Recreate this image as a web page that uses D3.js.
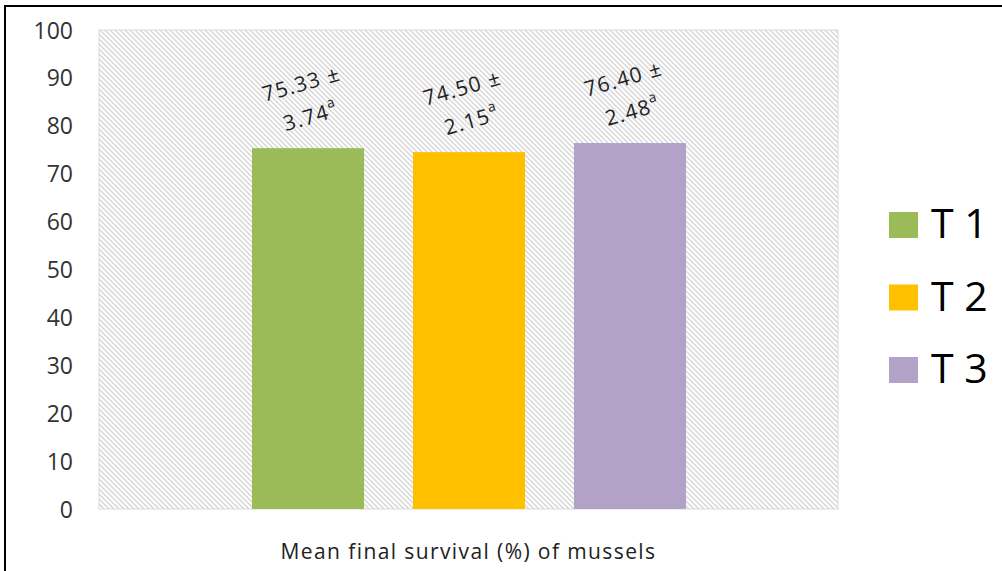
<!DOCTYPE html>
<html>
<head>
<meta charset="utf-8">
<script src="https://cdn.jsdelivr.net/npm/d3@7"></script>
<style>
  html, body { margin: 0; padding: 0; background: #fff; }
  svg { display: block; font-family: "Open Sans", sans-serif; }
</style>
</head>
<body>
<svg id="chart" width="1002" height="571"></svg>
<script>
// Survival data per treatment
const series = ["T 1", "T 2", "T 3"];
const means = [75.33, 74.50, 76.40];
const errors = [3.74, 2.15, 2.48];
const letters = ["a", "a", "a"];
const colors = ["#9BBB59", "#FFC000", "#B2A2C7"];
const yTicks = [0, 10, 20, 30, 40, 50, 60, 70, 80, 90, 100];
const axisTitle = "Mean final survival (%) of mussels";

const svg = d3.select("#chart");
const plot = { left: 99, right: 838, top: 30, bottom: 509 };

// Outer frame
svg.append("rect")
  .attr("x", 5).attr("y", 6).attr("width", 1010).attr("height", 580)
  .attr("fill", "none").attr("stroke", "#000").attr("stroke-width", 2);

// Diagonal hatch for the plot background
const defs = svg.append("defs");
const pat = defs.append("pattern")
  .attr("id", "hatch").attr("patternUnits", "userSpaceOnUse")
  .attr("width", 5).attr("height", 5);
pat.append("rect").attr("width", 5).attr("height", 5).attr("fill", "#fff");
pat.append("path")
  .attr("d", "M-1,-1 L6,6 M-1,4 L1,6 M4,-1 L6,1")
  .attr("stroke", "#d6d6d6").attr("stroke-width", 1.4);

const y = d3.scaleLinear().domain([0, 100]).range([plot.bottom, plot.top]);
const x = d3.scaleBand().domain(series).range([252, 686]).paddingInner(0.304).paddingOuter(0);

svg.append("rect")
  .attr("x", plot.left).attr("y", plot.top)
  .attr("width", plot.right - plot.left).attr("height", plot.bottom - plot.top)
  .attr("fill", "url(#hatch)").attr("stroke", "#d9d9d9").attr("stroke-width", 1);

// Y axis labels
const yAxis = d3.axisLeft(y).tickValues(yTicks).tickSize(0).tickPadding(0);
const gy = svg.append("g").attr("transform", "translate(73,0)").call(yAxis);
gy.select(".domain").remove();
gy.selectAll("text")
  .attr("font-family", "Open Sans, sans-serif")
  .attr("font-size", 23).attr("fill", "#333").attr("dy", "0.35em");

// Bars
svg.append("g").selectAll("rect").data(series).join("rect")
  .attr("x", d => x(d))
  .attr("width", x.bandwidth())
  .attr("y", (d, i) => y(means[i]))
  .attr("height", (d, i) => y(0) - y(means[i]))
  .attr("fill", (d, i) => colors[i]);

// Value labels (mean ± SE with significance letter), tilted
const lbl = svg.append("g").selectAll("text").data(series).join("text")
  .attr("transform", (d, i) => `translate(${x(d) + x.bandwidth() / 2},${y(means[i]) - 41}) rotate(-16)`)
  .attr("text-anchor", "middle")
  .attr("font-size", 21).attr("letter-spacing", 1.3).attr("fill", "#222");
lbl.append("tspan").attr("x", 0).attr("y", -17)
  .text((d, i) => means[i].toFixed(2) + " ±");
const l2 = lbl.append("tspan").attr("x", 0).attr("y", 17);
l2.append("tspan").text((d, i) => errors[i].toFixed(2));
l2.append("tspan").attr("font-size", 14).attr("dy", "-0.75em").text((d, i) => letters[i]);

// Axis title
svg.append("text")
  .attr("x", (plot.left + plot.right) / 2).attr("y", 559)
  .attr("text-anchor", "middle").attr("font-size", 21).attr("letter-spacing", 1.4).attr("fill", "#222")
  .text(axisTitle);

// Legend
const leg = svg.append("g").selectAll("g").data(series).join("g")
  .attr("transform", (d, i) => `translate(889,${212 + i * 72.5})`);
leg.append("rect").attr("width", 29).attr("height", 26).attr("fill", (d, i) => colors[i]);
leg.append("text").attr("x", 42).attr("y", 26)
  .attr("font-size", 41).attr("fill", "#000").text(d => d);
</script>
</body>
</html>
